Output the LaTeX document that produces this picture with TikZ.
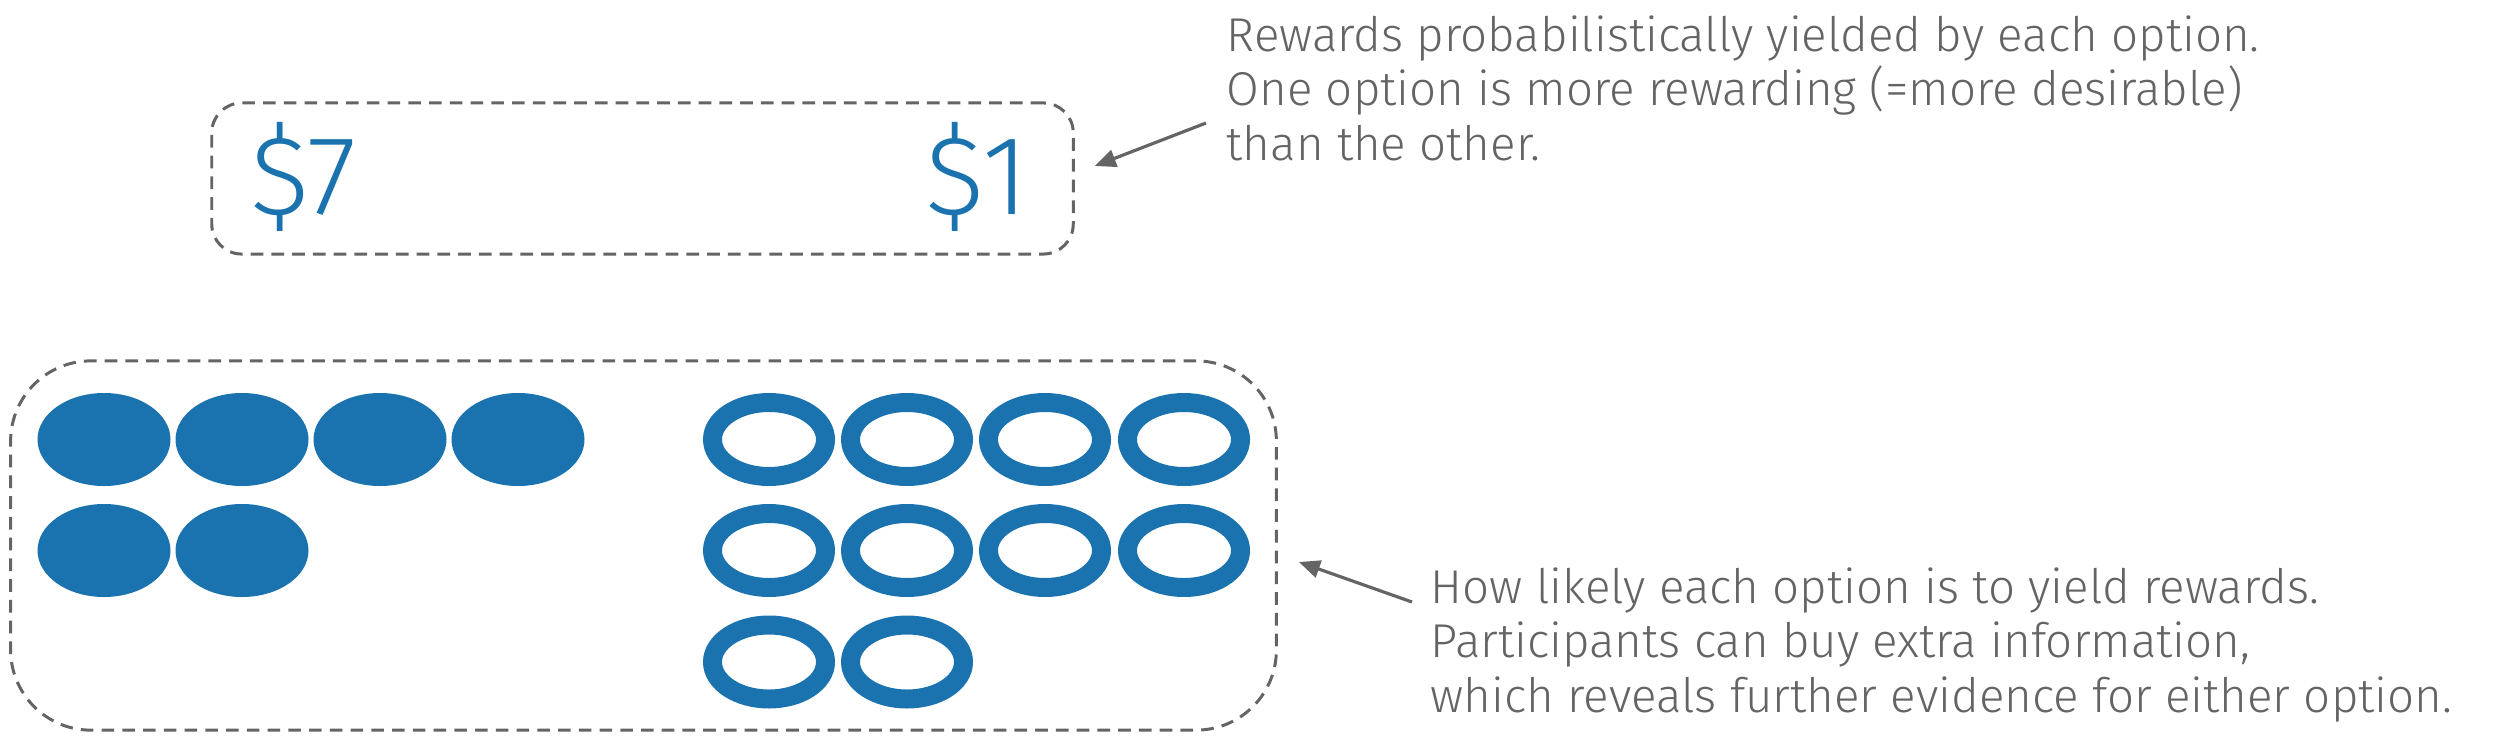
\documentclass[tikz,border=0pt]{standalone}
\usepackage{fontspec}
\setmainfont{Fira Sans}[UprightFont=* Light]
\usepackage{xcolor}
\usetikzlibrary{arrows.meta, positioning}

\definecolor{optblue}{HTML}{1A72AF}
\definecolor{notegray}{HTML}{646464}

\tikzset{
  dashbox/.style={draw=notegray, line width=0.85pt, dash pattern=on 3.6pt off 2.3pt, inner sep=0pt},
  note/.style={text=notegray, font=\fontsize{13.5}{15.5}\selectfont, align=left, inner sep=0pt, anchor=north west},
  pointer/.style={draw=notegray, line width=0.9pt, -{Triangle[length=6pt, width=5pt]}},
  reward/.style={text=optblue, font=\fontsize{32}{32}\selectfont, inner sep=0pt},
  token/.style={fill=optblue},
  ring/.style={draw=optblue, line width=5.4pt}
}

\begin{document}
\begin{tikzpicture}[x=0.01cm, y=-0.01cm]
  \useasboundingbox (0,0) rectangle (2500,748);
  % ---------- REWARDS ----------
  \node[dashbox, rounded corners=8.5pt, minimum width=8.61cm, minimum height=1.51cm] (rewbox) at (642.5,178.5) {};
  \node[reward] (high) at (304,177) {\$7};
  \node[reward] (low) at (977,177) {\$1};
  \node[note] (rewtxt) at (1226,15) {Rewards probabilistically yielded by each option.\\One option is more rewarding (=more desirable)\\than the other.};
  \coordinate (rewtail) at (1206,123);
  \draw[pointer] (rewtail) -- ([shift={(20,-12.5)}]rewbox.east);
  % ---------- PROBABILITIES ----------
  \node[dashbox, rounded corners=22.8pt, minimum width=12.65cm, minimum height=3.69cm] (likebox) at (643.5,545.5) {};
  \foreach \x/\y in {104/439.5, 242/439.5, 380/439.5, 518/439.5, 104/550.5, 242/550.5}
    \fill[token] (\x,\y) ellipse (66.5 and 46.5);
  \foreach \x/\y in {769/439.5, 907/439.5, 1045/439.5, 1184/439.5, 769/550.5, 907/550.5, 1045/550.5, 1184/550.5, 769/662, 907/662}
    \draw[ring] (\x,\y) ellipse (56.5 and 37);
  \node[note] (liketxt) at (1430,567) {How likely each option is to yield rewards.\\Participants can buy extra information,\\which reveals further evidence for either option.};
  \coordinate (liketail) at (1412,602);
  \draw[pointer] (liketail) -- ([shift={(21,16.5)}]likebox.east);
\end{tikzpicture}
\end{document}
